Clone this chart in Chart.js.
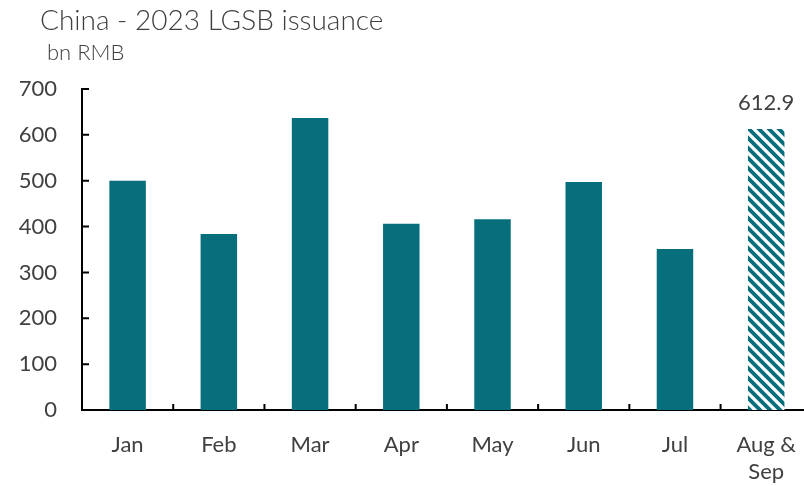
<!DOCTYPE html>
<html>
<head>
<meta charset="utf-8">
<script src="https://cdn.jsdelivr.net/npm/chart.js@4/dist/chart.umd.min.js"></script>
<style>
  html, body { margin: 0; padding: 0; background: #fff; overflow: hidden; }
  #wrap { width: 818px; height: 486px; position: relative; }
  .ttl { position: absolute; color: #404040; font-family: Lato, 'Open Sans', sans-serif; white-space: nowrap; line-height: 1; }
  #title01 { left: 40px; top: 5px; font-size: 28px; font-weight: 300; }
  #sub01 { left: 47px; top: 41px; font-size: 22px; font-weight: 300; }
</style>
</head>
<body>
<div id="wrap">
  <canvas id="cv_chart" width="818" height="486"></canvas>
  <div class="ttl" id="title01">China - 2023 LGSB issuance</div>
  <div class="ttl" id="sub01">bn RMB</div>
</div>
<script>
const months = ['Jan', 'Feb', 'Mar', 'Apr', 'May', 'Jun', 'Jul', ['Aug &', 'Sep']];
const issuance = [500, 384, 637, 406, 416, 497, 351, 612.9];
const yTicks = [0, 100, 200, 300, 400, 500, 600, 700];

const teal = '#066f7b';
const textGrey = '#404040';
const fontName = "Lato, 'Open Sans', sans-serif";

// hatched fill for the forecast bar
const makeHatch = () => {
    const c = document.createElement('canvas');
    c.width = 10;
    c.height = 10;
    const g = c.getContext('2d');
    g.fillStyle = '#fff';
    g.fillRect(0, 0, 10, 10);
    g.strokeStyle = teal;
    g.lineWidth = 3.8;
    g.beginPath();
    g.moveTo(-5, -5); g.lineTo(15, 15);
    g.moveTo(-5, 5); g.lineTo(5, 15);
    g.moveTo(5, -5); g.lineTo(15, 5);
    g.stroke();
    return g.createPattern(c, 'repeat');
};
const hatch = makeHatch();
const barColors = issuance.map((v, i) => i === issuance.length - 1 ? hatch : teal);

// small tick marks pointing into the plot
const innerTicks = {
    id: 'innerTicks',
    afterDatasetsDraw(chart) {
        const ctx = chart.ctx;
        const xs = chart.scales.x;
        const ys = chart.scales.y;
        const bottom = ys.getPixelForValue(0);
        const left = xs.left;
        ctx.save();
        ctx.strokeStyle = '#000';
        ctx.lineWidth = 2;
        ctx.beginPath();
        yTicks.forEach(t => {
            const y = ys.getPixelForValue(t);
            ctx.moveTo(left, y);
            ctx.lineTo(left + 7, y);
        });
        for (let i = 1; i <= months.length; i++) {
            const x = xs.getPixelForValue(i - 0.5);
            ctx.moveTo(x, bottom);
            ctx.lineTo(x, bottom - 6);
        }
        ctx.stroke();
        ctx.restore();
    }
};

// value label on the last bar
const lastLabel = {
    id: 'lastLabel',
    afterDatasetsDraw(chart) {
        const meta = chart.getDatasetMeta(0);
        const i = issuance.length - 1;
        const bar = meta.data[i];
        const ctx = chart.ctx;
        ctx.save();
        ctx.fillStyle = textGrey;
        ctx.font = "22px " + fontName;
        ctx.textAlign = 'center';
        ctx.textBaseline = 'bottom';
        ctx.fillText(issuance[i].toFixed(1), bar.x, bar.y - 15);
        ctx.restore();
    }
};

const ctx01 = document.getElementById('cv_chart').getContext('2d');
const chart01 = new Chart(ctx01, {
    type: 'bar',
    data: {
        labels: months,
        datasets: [{
            data: issuance,
            backgroundColor: barColors,
            borderWidth: 0,
            barPercentage: 0.4,
            categoryPercentage: 1
        }]
    },
    options: {
        responsive: false,
        animation: false,
        layout: { padding: { left: 0, top: 89, right: 0, bottom: 0 } },
        plugins: {
            legend: { display: false },
            tooltip: { enabled: false }
        },
        scales: {
            x: {
                grid: { display: false, drawTicks: false },
                border: { color: '#000', width: 2 },
                afterFit: (s) => { s.height = 76; },
                ticks: {
                    color: textGrey,
                    font: { family: fontName, size: 22 },
                    maxRotation: 0,
                    padding: 22
                }
            },
            y: {
                min: 0,
                max: 700,
                grid: { display: false, drawTicks: false },
                border: { color: '#000', width: 2 },
                afterFit: (s) => { s.width = 82; },
                ticks: {
                    stepSize: 100,
                    color: textGrey,
                    font: { family: fontName, size: 22 },
                    padding: 25
                }
            }
        }
    },
    plugins: [innerTicks, lastLabel]
});
</script>
</body>
</html>
